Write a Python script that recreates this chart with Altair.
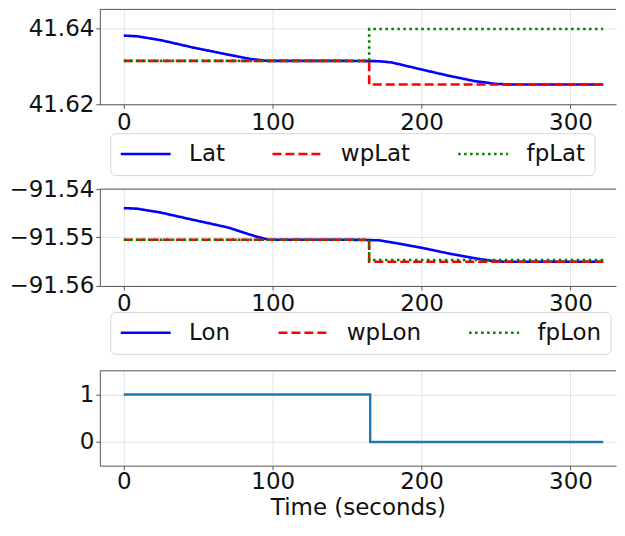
import altair as alt
import pandas as pd

FONT = "DejaVu Sans"
FS = 23
SPINE = "#555555"
GRID = "#e4e4e4"

# ---------------- data ----------------
# Panel 1 : latitude
lat_t = [0, 9, 25, 47, 70, 85, 97, 110, 130, 150, 171, 180, 196, 218, 236, 250, 260, 290, 322]
lat_v = [41.63817, 41.63799, 41.63695, 41.63497, 41.63314, 41.63199, 41.63147, 41.63147,
         41.63147, 41.63147, 41.63140, 41.63106, 41.62957, 41.62756, 41.62610, 41.62540,
         41.62522, 41.62522, 41.62522]
wplat_t = [0, 164.8, 164.8, 322]
wplat_v = [41.63147, 41.63147, 41.62522, 41.62522]
fplat_t = [0, 164.8, 164.8, 322]
fplat_v = [41.63147, 41.63147, 41.63992, 41.63992]

# Panel 2 : longitude
lon_t = [0, 9, 25, 47, 70, 85, 97, 110, 130, 150, 171.5, 185, 200.5, 218.5, 234, 245, 255, 290, 322]
lon_v = [-91.54392, -91.54404, -91.54486, -91.54637, -91.54792, -91.54943, -91.55045, -91.55045,
         -91.55045, -91.55045, -91.55057, -91.55127, -91.55214, -91.55331, -91.55418, -91.55473,
         -91.55500, -91.55500, -91.55500]
wplon_t = [0, 164.8, 164.8, 322]
wplon_v = [-91.55045, -91.55045, -91.55500, -91.55500]
fplon_t = [0, 164.8, 164.8, 322]
fplon_v = [-91.55045, -91.55045, -91.55465, -91.55465]

# Panel 3 : flag
flag_t = [0, 165.5, 165.5, 322]
flag_v = [1, 1, 0, 0]

X_DOMAIN = [-16.1, 330.6]
X_TICKS = [0, 100, 200, 300]
W = 517


def long_df(names, ts, vs):
    rows = []
    for name, t, v in zip(names, ts, vs):
        for i, (a, b) in enumerate(zip(t, v)):
            rows.append({"t": a, "v": b, "series": name, "i": i})
    return pd.DataFrame(rows)


def x_enc(title=None, label_pad=3, title_pad=0):
    return alt.X(
        "t:Q",
        scale=alt.Scale(domain=X_DOMAIN, nice=False, zero=False),
        axis=alt.Axis(values=X_TICKS, title=title, grid=True, labelFlush=False,
                      labelOverlap=False, labelPadding=label_pad, titlePadding=title_pad),
    )


def y_enc(domain, ticks, fmt):
    return alt.Y(
        "v:Q",
        scale=alt.Scale(domain=domain, nice=False, zero=False),
        axis=alt.Axis(values=ticks, format=fmt, title=None, grid=True,
                      labelOverlap=False, labelFlush=False),
    )


def top_spine():
    return alt.Chart(pd.DataFrame({"a": [0]})).mark_rule(color=SPINE, strokeWidth=1).encode(
        x=alt.value(0), x2=alt.value(W), y=alt.value(0)
    )


def panel(names, ts, vs, ydom, yticks, fmt, h, lx, ly):
    df = long_df(names, ts, vs)
    colors = ["#0000ff", "#ff0000", "#008000"]
    dashes = [[1, 0], [9, 4], [2.5, 3.5]]
    legend = alt.Legend(
        orient="none", legendX=lx, legendY=ly, direction="horizontal", title=None,
        labelFontSize=FS, labelFont=FONT, labelColor="#111111",
        symbolType="M-1,0H4", symbolSize=400, symbolStrokeWidth=2.5,
        labelOffset=47, columnPadding=42, padding=9,
        strokeColor="#d6d6d6", fillColor="white", cornerRadius=5,
    )
    layers = []
    for name in names:
        layers.append(
            alt.Chart(df).transform_filter(alt.datum.series == name).mark_line(strokeWidth=2.6).encode(
                x=x_enc(),
                y=y_enc(ydom, yticks, fmt),
                order=alt.Order("i:Q"),
                color=alt.Color("series:N", scale=alt.Scale(domain=names, range=colors), legend=legend),
                strokeDash=alt.StrokeDash("series:N", scale=alt.Scale(domain=names, range=dashes), legend=legend),
            )
        )
    layers.append(top_spine())
    return alt.layer(*layers).properties(width=W, height=h)


p1 = panel(["Lat", "wpLat", "fpLat"], [lat_t, wplat_t, fplat_t], [lat_v, wplat_v, fplat_v],
           [41.62, 41.6451], [41.62, 41.64], ".2f", 95, 10.4, 124)
p2 = panel(["Lon", "wpLon", "fpLon"], [lon_t, wplon_t, fplon_t], [lon_v, wplon_v, fplon_v],
           [-91.56, -91.54], [-91.56, -91.55, -91.54], ".2f", 97, 10.4, 123)

df3 = long_df(["flag"], [flag_t], [flag_v])
p3_line = alt.Chart(df3).mark_line(strokeWidth=2.4, color="#1f77b4").encode(
    x=x_enc("Time (seconds)", label_pad=1, title_pad=3),
    y=y_enc([-0.5, 1.5], [0, 1], "d"),
    order=alt.Order("i:Q"),
)
p3 = alt.layer(p3_line, top_spine()).properties(width=W, height=95)

chart = alt.vconcat(p1, p2, p3, spacing=85, bounds="flush").resolve_scale(
    x="independent", y="independent", color="independent", strokeDash="independent"
).resolve_legend(color="independent", strokeDash="independent").properties(
    padding={"left": 0, "top": 0, "right": 0, "bottom": 0}
).configure_view(stroke=None).configure_axis(
    labelFont=FONT, labelFontSize=FS, labelColor="#111111",
    titleFont=FONT, titleFontSize=FS, titleFontWeight="normal", titleColor="#111111",
    domainColor=SPINE, domainWidth=1, tickColor=SPINE, tickSize=4, tickWidth=1,
    gridColor=GRID, gridWidth=1,
)

chart.save("out.html", embed_options={"renderer": "svg", "actions": False})
